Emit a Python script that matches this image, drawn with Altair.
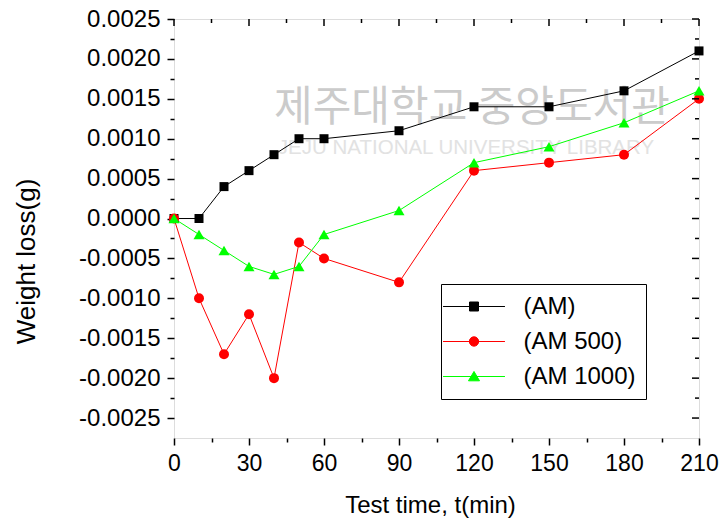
import altair as alt
import pandas as pd

# ---- data ----
times = [0, 10, 20, 30, 40, 50, 60, 90, 120, 150, 180, 210]
am = [0.0, 0.0, 0.0004, 0.0006, 0.0008, 0.0010, 0.0010, 0.0011, 0.0014, 0.0014, 0.0016, 0.0021]
am500 = [0.0, -0.0010, -0.0017, -0.0012, -0.0020, -0.0003, -0.0005, -0.0008, 0.0006, 0.0007, 0.0008, 0.0015]
am1000 = [0.0, -0.0002, -0.0004, -0.0006, -0.0007, -0.0006, -0.0002, 0.0001, 0.0007, 0.0009, 0.0012, 0.0016]

series_names = ["(AM)", "(AM 500)", "(AM 1000)"]
series_colors = ["#000000", "#ff0000", "#00ff00"]
series_shapes = ["square", "circle", "triangle-up"]
series_sizes = [81, 100, 121]

x_major = [0, 30, 60, 90, 120, 150, 180, 210]
x_minor = [15, 45, 75, 105, 135, 165, 195]
y_major = [-0.0025, -0.0020, -0.0015, -0.0010, -0.0005, 0.0, 0.0005, 0.0010, 0.0015, 0.0020, 0.0025]
y_minor = [-0.00225, -0.00175, -0.00125, -0.00075, -0.00025, 0.00025, 0.00075, 0.00125, 0.00175, 0.00225]

watermark_kr = "제주대학교 중앙도서관"
watermark_en = "JEJU NATIONAL UNIVERSITY  LIBRARY"

FONT = "Liberation Sans"
X_MIN, X_MAX = 0, 210
Y_MIN, Y_MAX = -0.00275, 0.0025
PLOT_W, PLOT_H = 525, 419

rows = []
for name, vals in zip(series_names, [am, am500, am1000]):
    for t, w in zip(times, vals):
        rows.append({"t": t, "w": w, "series": name})
df = pd.DataFrame(rows)

xs = alt.Scale(domain=[X_MIN, X_MAX], nice=False, zero=False)
ys = alt.Scale(domain=[Y_MIN, Y_MAX], nice=False, zero=False)

def common():
    return dict(grid=False, domain=False, tickColor="black", tickWidth=1.5)

ax_bottom_major = alt.Axis(orient="bottom", values=x_major, tickSize=7, labelPadding=7,
                           labelFontSize=23, labelFont=FONT, labelColor="black",
                           labelFlush=False, labelOverlap=False,
                           title="Test time, t(min)", titleFontSize=24, titleFont=FONT,
                           titleColor="black", titleFontWeight="normal",
                           titleX=256, titleY=74, titleBaseline="alphabetic", titleAlign="center",
                           **common())
ax_bottom_minor = alt.Axis(orient="bottom", values=x_minor, tickSize=4, labels=False, title=None, **common())
ax_left_major = alt.Axis(orient="left", values=y_major, tickSize=7, labelPadding=7,
                         labelExpr="replace(format(datum.value, '.4f'), '\u2212', '-')",
                         labelFontSize=24, labelFont=FONT, labelColor="black",
                         labelFlush=False, labelOverlap=False,
                         title="Weight loss(g)", titleFontSize=26, titleFont=FONT,
                         titleColor="black", titleFontWeight="normal", titleAngle=270,
                         titleX=-140, titleY=242, titleBaseline="alphabetic", titleAlign="center",
                         **common())
ax_left_minor = alt.Axis(orient="left", values=y_minor, tickSize=4, labels=False, title=None, **common())

base = alt.Chart(df)

wm1 = alt.Chart(pd.DataFrame({"txt": [watermark_kr]})).mark_text(
    font="Noto Sans CJK KR", fontSize=42, color="#cbcbcb", align="center", baseline="middle"
).encode(text="txt:N", x=alt.value(298), y=alt.value(89))

wm2 = alt.Chart(pd.DataFrame({"txt": [watermark_en]})).mark_text(
    font=FONT, fontSize=20.5, color="#e2e2e2", align="center", baseline="middle"
).encode(text="txt:N", x=alt.value(292), y=alt.value(129))

# legend symbols: a line with a marker, as custom paths (unit = 12 px)
legend_paths = [
    "M-2.58,0H2.58M-0.375,-0.375H0.375V0.375H-0.375Z",
    "M-2.58,0H2.58M0.39,0A0.39,0.39,0,1,1,-0.39,0A0.39,0.39,0,1,1,0.39,0Z",
    "M-2.58,0H2.58M0,-0.42L0.46,0.36L-0.46,0.36Z",
]
shape_expr = (
    f"datum.value == '{series_names[0]}' ? '{legend_paths[0]}' : "
    f"datum.value == '{series_names[1]}' ? '{legend_paths[1]}' : '{legend_paths[2]}'"
)
leg = alt.Legend(
    title=None, orient="none", legendX=267, legendY=265, direction="vertical",
    padding=10, strokeColor="black", fillColor="white",
    symbolType=alt.ExprRef(expr=shape_expr),
    symbolFillColor=alt.ExprRef(expr="scale('color', datum.value)"),
    symbolSize=576, symbolStrokeWidth=1, symbolOffset=10.5, rowPadding=10,
    labelFontSize=24, labelFont=FONT, labelColor="black", labelOffset=37,
    labelExpr="datum.label + '\u00a0'",
)

lines = base.mark_line(strokeWidth=1).encode(
    x=alt.X("t:Q", scale=xs, axis=ax_bottom_major),
    y=alt.Y("w:Q", scale=ys, axis=ax_left_major),
    color=alt.Color("series:N", scale=alt.Scale(domain=series_names, range=series_colors), legend=leg),
)

point_layers = []
for i, (name, color, shape, size) in enumerate(zip(series_names, series_colors, series_shapes, series_sizes)):
    point_layers.append(
        base.transform_filter(alt.datum.series == name)
        .mark_point(filled=True, shape=shape, size=size, color=color, opacity=1)
        .encode(
            x=alt.X("t:Q", scale=xs, axis=ax_bottom_minor if i == 0 else None),
            y=alt.Y("w:Q", scale=ys, axis=ax_left_minor if i == 0 else None),
        )
    )

# inward tick marks on the top and right frame, built as data (tick length converted to data units)
top_rows = []
for vals, px in [(x_major, 7), (x_minor, 4)]:
    for v in vals:
        top_rows.append({"xa": v, "xb": v, "ya": Y_MAX, "yb": Y_MAX - px * (Y_MAX - Y_MIN) / PLOT_H})
right_rows = []
for vals, px in [(y_major, 7), (y_minor, 4)]:
    for v in vals:
        right_rows.append({"xa": X_MAX, "xb": X_MAX - px * (X_MAX - X_MIN) / PLOT_W, "ya": v, "yb": v})
frame_ticks = alt.Chart(pd.DataFrame(top_rows + right_rows)).mark_rule(
    color="black", strokeWidth=1.5
).encode(
    x=alt.X("xa:Q", scale=xs, axis=None),
    x2="xb:Q",
    y=alt.Y("ya:Q", scale=ys, axis=None),
    y2="yb:Q",
)

chart = alt.layer(wm1, wm2, lines, *point_layers, frame_ticks).resolve_axis(
    x="independent", y="independent"
).properties(
    width=PLOT_W, height=PLOT_H,
    autosize=alt.AutoSizeParams(type="none"),
    padding={"left": 174, "top": 19, "right": 25, "bottom": 82},
).configure_view(stroke="black", strokeWidth=2).configure(font=FONT, background="white")

chart.save("out.html", embed_options={"renderer": "svg", "actions": False})
